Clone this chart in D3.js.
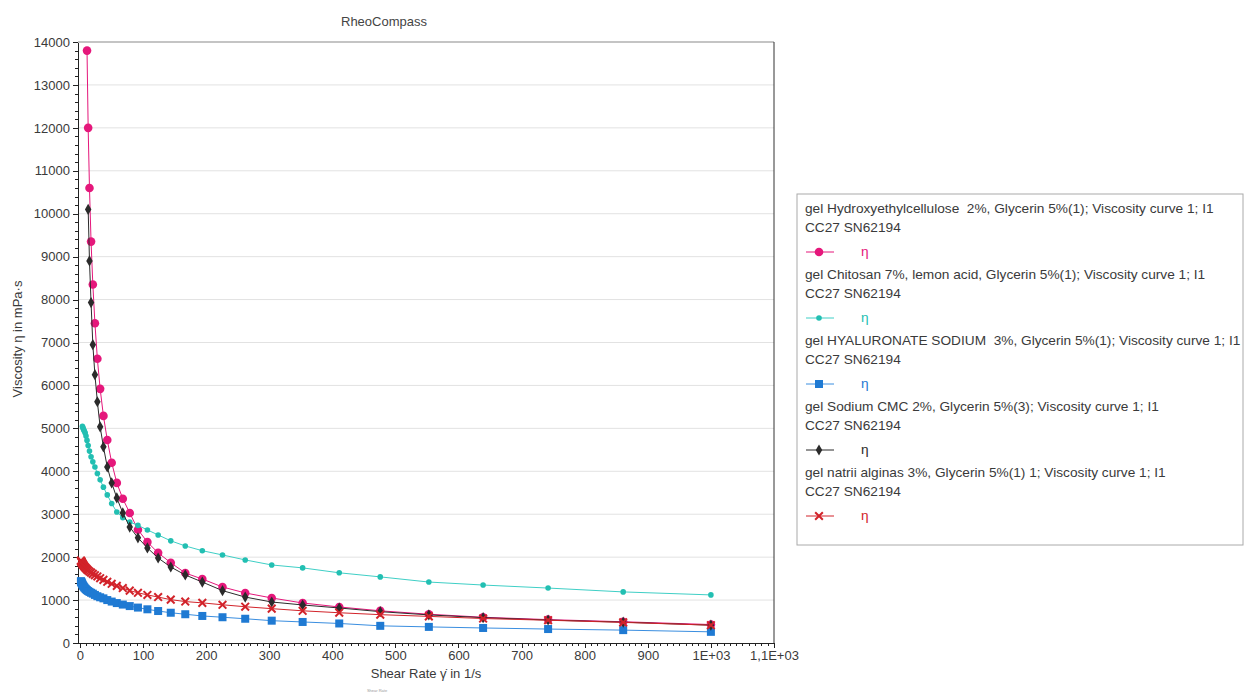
<!DOCTYPE html>
<html>
<head>
<meta charset="utf-8">
<script src="https://cdn.jsdelivr.net/npm/d3@7"></script>
<style>
  body { margin: 0; background: #fff; }
  text { font-family: "Liberation Sans", Arial, sans-serif; fill: #3a3a3a; }
  .axis path, .axis line { stroke: #222; shape-rendering: crispEdges; }
</style>
</head>
<body>
<svg id="chart" width="1247" height="700"></svg>
<script>
// shear rates of the measuring points (1/s), log spaced
var shearRate = [1.0, 1.2, 1.4, 1.6, 1.9, 2.2, 2.5, 2.9, 3.4, 4.0, 4.6, 5.3, 6.2, 7.2, 8.4, 9.7,
  11.3, 13.1, 15.2, 17.7, 20.5, 23.8, 27.7, 32.1, 37.3, 43.4, 50.4, 58.5, 68, 79, 92, 107,
  124, 144, 167, 194, 226, 262, 304, 353, 411, 476, 553, 639, 742, 861, 1000];

// viscosities in mPa·s, every series ends at the last shear rate
var etaHEC = [13800, 12000, 10600, 9350, 8350, 7450, 6620, 5920, 5290, 4730, 4200, 3730, 3360,
  3030, 2640, 2350, 2100, 1870, 1630, 1490, 1305, 1166, 1049, 932, 839, 750, 670, 600, 545, 495, 430];
var etaChitosan = [5050, 5020, 4990, 4960, 4930, 4890, 4820, 4720, 4600, 4470, 4340, 4220, 4100,
  3950, 3800, 3630, 3450, 3250, 3050, 2920, 2820, 2740, 2634, 2517, 2380, 2261, 2150, 2051, 1935,
  1818, 1750, 1635, 1540, 1420, 1350, 1280, 1190, 1120];
var etaHyaluronate = [1440, 1430, 1420, 1410, 1395, 1380, 1365, 1345, 1330, 1310, 1290, 1270, 1250,
  1230, 1210, 1190, 1170, 1150, 1120, 1090, 1065, 1040, 1000, 965, 930, 895, 860, 825, 785, 745,
  705, 670, 630, 600, 565, 520, 490, 455, 400, 375, 350, 325, 300, 260];
var etaCMC = [10100, 8900, 7930, 6950, 6250, 5620, 5035, 4570, 4100, 3730, 3380, 3030, 2700, 2450,
  2215, 1980, 1770, 1585, 1420, 1220, 1070, 955, 886, 816, 730, 655, 590, 535, 485, 415];
var etaAlginas = [1920, 1910, 1900, 1890, 1880, 1865, 1850, 1835, 1820, 1800, 1780, 1760, 1740,
  1715, 1690, 1665, 1640, 1610, 1580, 1550, 1510, 1470, 1425, 1380, 1330, 1280, 1220, 1170, 1120,
  1070, 1010, 965, 935, 890, 845, 800, 750, 705, 660, 620, 570, 530, 480, 415];

var legendNames = [
  "gel Hydroxyethylcellulose  2%, Glycerin 5%(1); Viscosity curve 1; I1",
  "gel Chitosan 7%, lemon acid, Glycerin 5%(1); Viscosity curve 1; I1",
  "gel HYALURONATE SODIUM  3%, Glycerin 5%(1); Viscosity curve 1; I1",
  "gel Sodium CMC 2%, Glycerin 5%(3); Viscosity curve 1; I1",
  "gel natrii alginas 3%, Glycerin 5%(1) 1; Viscosity curve 1; I1"
];
var deviceName = "CC27 SN62194";

var xTickValues = [0, 100, 200, 300, 400, 500, 600, 700, 800, 900, 1000, 1100];
var xTickLabels = ["0", "100", "200", "300", "400", "500", "600", "700", "800", "900", "1E+03", "1,1E+03"];
var yTickValues = d3.range(0, 14001, 1000);

var series = [
  { name: legendNames[0], eta: etaHEC,         color: "#e5177b", line: "#e5177b", shape: "circle" },
  { name: legendNames[1], eta: etaChitosan,    color: "#22bfb2", line: "#3fcfc6", shape: "dot" },
  { name: legendNames[2], eta: etaHyaluronate, color: "#1f7ad3", line: "#3a8ee0", shape: "square" },
  { name: legendNames[3], eta: etaCMC,         color: "#2b2b2b", line: "#2b2b2b", shape: "diamond" },
  { name: legendNames[4], eta: etaAlginas,     color: "#d2232a", line: "#d2232a", shape: "times" }
];
series.forEach(function(s) {
  var off = shearRate.length - s.eta.length;
  s.points = s.eta.map(function(v, i) { return { x: shearRate[off + i], y: v }; });
});

var svg = d3.select("#chart");
var plotLeft = 78, plotRight = 774, plotTop = 42, plotBottom = 643;

var x = d3.scaleLinear().domain([-3, 1100]).range([plotLeft, plotRight]);
var y = d3.scaleLinear().domain([0, 14000]).range([plotBottom, plotTop]);

// title
svg.append("text").attr("x", 384).attr("y", 26).attr("text-anchor", "middle")
  .style("font-size", "13px").style("fill", "#444").text("RheoCompass");

// horizontal grid
svg.append("g").selectAll("line")
  .data(yTickValues.filter(function(d) { return d > 0; }))
  .enter().append("line")
  .attr("x1", plotLeft).attr("x2", plotRight)
  .attr("y1", function(d) { return y(d); }).attr("y2", function(d) { return y(d); })
  .attr("stroke", function(d) { return d === 14000 ? "#c4c4c4" : "#e2e2e2"; })
  .attr("stroke-width", function(d) { return d === 14000 ? 2 : 1; });

// right frame
svg.append("line").attr("x1", plotRight).attr("x2", plotRight).attr("y1", plotTop).attr("y2", plotBottom)
  .attr("stroke", "#333").attr("stroke-width", 1);

// axes
var yMinor = svg.append("g").attr("class", "axis").attr("transform", "translate(" + plotLeft + ",0)")
  .call(d3.axisLeft(y).tickValues(d3.range(0, 14001, 200)).tickSize(3).tickFormat(""));
yMinor.select(".domain").remove();
svg.append("g").attr("class", "axis").attr("transform", "translate(" + plotLeft + ",0)")
  .call(d3.axisLeft(y).tickValues(yTickValues).tickSizeInner(5).tickSizeOuter(0).tickPadding(3)
    .tickFormat(d3.format("d")))
  .selectAll("text").style("font-size", "13px").style("fill", "#3a3a3a");

var xMinor = svg.append("g").attr("class", "axis").attr("transform", "translate(0," + plotBottom + ")")
  .call(d3.axisBottom(x).tickValues(d3.range(0, 1101, 10)).tickSize(3).tickFormat(""));
xMinor.select(".domain").remove();
svg.append("g").attr("class", "axis").attr("transform", "translate(0," + plotBottom + ")")
  .call(d3.axisBottom(x).tickValues(xTickValues).tickSizeInner(5).tickSizeOuter(0).tickPadding(3)
    .tickFormat(function(d, i) { return xTickLabels[i]; }))
  .selectAll("text").style("font-size", "13px").style("fill", "#3a3a3a");

// axis titles
svg.append("text").attr("x", 426).attr("y", 678).attr("text-anchor", "middle")
  .style("font-size", "13px").text("Shear Rate \u03B3\u0307 in 1/s");
svg.append("text").attr("x", 377).attr("y", 692).attr("text-anchor", "middle")
  .style("font-size", "4px").style("fill", "#999").text("Shear Rate");
svg.append("text").attr("transform", "translate(22,339) rotate(-90)").attr("text-anchor", "middle")
  .style("font-size", "13px").text("Viscosity \u03B7 in mPa\u00B7s");

// markers
function drawMarker(g, s) {
  if (s.shape === "circle") {
    g.append("circle").attr("r", 4.3).attr("fill", s.color);
  } else if (s.shape === "dot") {
    g.append("circle").attr("r", 2.8).attr("fill", s.color);
  } else if (s.shape === "square") {
    g.append("rect").attr("x", -4).attr("y", -4).attr("width", 8).attr("height", 8).attr("fill", s.color);
  } else if (s.shape === "diamond") {
    g.append("path").attr("d", d3.symbol().type(d3.symbolDiamond).size(36)).attr("fill", s.color);
  } else {
    g.append("path").attr("d", d3.symbol().type(d3.symbolTimes).size(40))
      .attr("fill", "none").attr("stroke", s.color).attr("stroke-width", 2);
  }
}

var line = d3.line().x(function(d) { return x(d.x); }).y(function(d) { return y(d.y); });

series.forEach(function(s) {
  var g = svg.append("g");
  g.append("path").datum(s.points).attr("d", line)
    .attr("fill", "none").attr("stroke", s.line).attr("stroke-width", 1);
  g.selectAll("g.pt").data(s.points).enter().append("g").attr("class", "pt")
    .attr("transform", function(d) { return "translate(" + x(d.x) + "," + y(d.y) + ")"; })
    .each(function() { drawMarker(d3.select(this), s); });
});

// legend
var lgX = 797, lgW = 446, lgTop = 194, lgStep = 66;
var legend = svg.append("g");
legend.append("rect").attr("x", lgX).attr("y", lgTop).attr("width", lgW).attr("height", 351)
  .attr("fill", "#fff").attr("stroke", "#aaa");

var probe = legend.append("text").style("font-size", "11px").text(legendNames[2]);
var fs = 11 * 432 / probe.node().getComputedTextLength();
probe.remove();

series.forEach(function(s, i) {
  var ty = lgTop + 19 + i * lgStep;
  legend.append("text").attr("x", 805).attr("y", ty).attr("xml:space", "preserve")
    .style("white-space", "pre").style("font-size", fs + "px").text(s.name);
  legend.append("text").attr("x", 805).attr("y", ty + 19).style("font-size", fs + "px").text(deviceName);
  var my = ty + 39;
  legend.append("line").attr("x1", 806).attr("x2", 834).attr("y1", my).attr("y2", my)
    .attr("stroke", s.line).attr("stroke-width", 1);
  drawMarker(legend.append("g").attr("transform", "translate(819," + my + ")"), s);
  legend.append("text").attr("x", 861).attr("y", my + 4).style("font-size", fs + "px")
    .style("fill", s.color).text("\u03B7");
});
</script>
</body>
</html>
